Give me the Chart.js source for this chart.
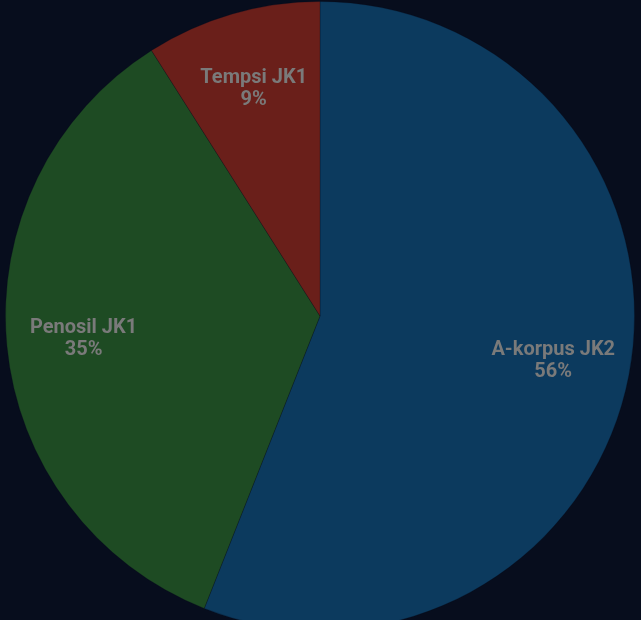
<!DOCTYPE html>
<html>
<head>
<meta charset="utf-8">
<script src="https://cdn.jsdelivr.net/npm/chart.js@4/dist/chart.umd.min.js"></script>
<style>
    html, body { margin: 0; padding: 0; background: #070d1d; overflow: hidden; }
    #wrap { width: 641px; height: 640px; }
</style>
</head>
<body>
<div id="wrap"><canvas id="mypie"></canvas></div>
<script>
let labels = ['A-korpus JK2', 'Penosil JK1', 'Tempsi JK1'];
let values = [56, 35, 9];
let colors = ['#0c3a5e', '#1e4b23', '#6a1f1a'];

// draws name + percent inside each slice
let sliceLabels = {
    id: 'sliceLabels',
    afterDatasetsDraw(chart) {
        let ctx = chart.ctx;
        let meta = chart.getDatasetMeta(0);
        let total = values.reduce((a, b) => a + b, 0);
        ctx.save();
        ctx.font = 'bold 20px Roboto';
        ctx.fillStyle = '#7a7a7a';
        ctx.textAlign = 'center';
        ctx.textBaseline = 'middle';
        meta.data.forEach(function (arc, i) {
            let p = arc.getProps(['x', 'y', 'startAngle', 'endAngle', 'outerRadius']);
            let mid = (p.startAngle + p.endAngle) / 2;
            let r = p.outerRadius * 0.755;
            let x = p.x + Math.cos(mid) * r;
            let y = p.y + Math.sin(mid) * r;
            let pct = Math.round(values[i] / total * 100) + '%';
            ctx.fillText(labels[i], x, y - 10);
            ctx.fillText(pct, x, y + 12);
        });
        ctx.restore();
    }
};

let ctx = document.getElementById('mypie');
let myPieChart = new Chart(ctx, {
    type: 'pie',
    data: {
        labels: labels,
        datasets: [{
            data: values,
            backgroundColor: colors,
            borderColor: 'rgba(7,13,29,0.25)',
            borderWidth: 1
        }]
    },
    options: {
        responsive: true,
        maintainAspectRatio: false,
        animation: false,
        layout: { padding: { left: 5, right: 6, top: 1, bottom: 9 } },
        plugins: {
            legend: { display: false },
            tooltip: { enabled: false }
        }
    },
    plugins: [sliceLabels]
});
</script>
</body>
</html>
